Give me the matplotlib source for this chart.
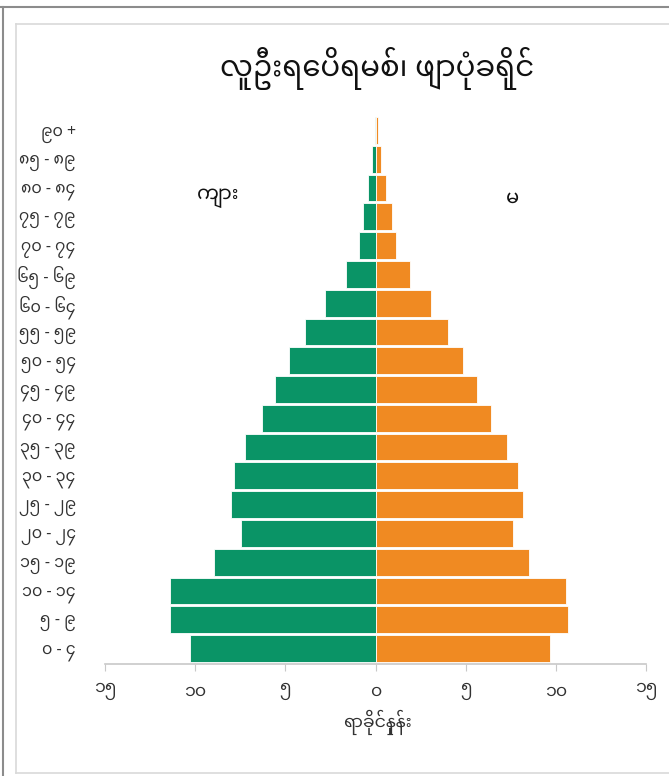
import matplotlib
matplotlib.use("Agg")
import matplotlib.pyplot as plt
from matplotlib.lines import Line2D
from matplotlib import font_manager
import numpy as np

# ---------------- data ----------------
age_groups = ["၀ - ၄", "၅ - ၉", "၁၀ - ၁၄", "၁၅ - ၁၉", "၂၀ - ၂၄", "၂၅ - ၂၉",
              "၃၀ - ၃၄", "၃၅ - ၃၉", "၄၀ - ၄၄", "၄၅ - ၄၉", "၅၀ - ၅၄", "၅၅ - ၅၉",
              "၆၀ - ၆၄", "၆၅ - ၆၉", "၇၀ - ၇၄", "၇၅ - ၇၉", "၈၀ - ၈၄", "၈၅ - ၈၉",
              "၉၀ +"]
male = [10.3, 11.4, 11.4, 8.95, 7.45, 8.0, 7.85, 7.25, 6.3, 5.6, 4.8, 3.9,
        2.8, 1.65, 0.94, 0.72, 0.43, 0.17, 0.05]
female = [9.7, 10.65, 10.55, 8.5, 7.6, 8.2, 7.9, 7.3, 6.4, 5.65, 4.86, 4.0,
          3.1, 1.93, 1.16, 0.94, 0.6, 0.28, 0.12]
xticks = [-15, -10, -5, 0, 5, 10, 15]
xtick_labels = ["၁၅", "၁၀", "၅", "၀", "၅", "၁၀", "၁၅"]
title = "လူဦးရေပိရမစ်၊ ဖျာပုံခရိုင်"
xlabel = "ရာခိုင်နှုန်း"
male_label = "ကျား"
female_label = "မ"

# ---------------- fonts ----------------
available = {f.name for f in font_manager.fontManager.ttflist}
fams = [f for f in ["Noto Sans Myanmar", "Padauk", "Myanmar Text", "Myanmar3",
                    "Noto Serif Myanmar", "Noto Sans", "DejaVu Sans"] if f in available]
plt.rcParams["font.family"] = fams

green = "#0a9466"
orange = "#f08a22"

W, H = 669, 776
fig = plt.figure(figsize=(W / 100, H / 100), dpi=100)

# outer frame lines
fig.add_artist(Line2D([0, 1], [1 - 6.5 / H, 1 - 6.5 / H], color="#8c8c8c", lw=1.5))
fig.add_artist(Line2D([2.5 / W, 2.5 / W], [0, 1 - 6.5 / H], color="#8c8c8c", lw=1.5))
# inner chart border
fig.add_artist(Line2D([16 / W, 1], [1 - 24 / H, 1 - 24 / H], color="#d9d9d9", lw=1.2))
fig.add_artist(Line2D([16 / W, 16 / W], [1 - 773 / H, 1 - 24 / H], color="#d9d9d9", lw=1.2))
fig.add_artist(Line2D([16 / W, 1], [1 - 773 / H, 1 - 773 / H], color="#d9d9d9", lw=1.2))

ax = fig.add_axes([105 / W, 1 - 664 / H, (646 - 105) / W, (664 - 116) / H])
y = np.arange(len(age_groups))
ax.barh(y, [-m for m in male], height=0.93, color=green, edgecolor="white", linewidth=0.6)
ax.barh(y, female, height=0.93, color=orange, edgecolor="white", linewidth=0.6)

ax.set_xlim(-15, 15)
ax.set_ylim(-0.535, 18.5)
ax.set_xticks(xticks)
ax.set_xticklabels(xtick_labels, fontsize=12.5, color="#333333")
ax.set_yticks(y)
ax.set_yticklabels(age_groups, fontsize=11.5, color="#333333")
ax.tick_params(axis="y", length=0, pad=21)
ax.tick_params(axis="x", length=5, color="#c8c8c8", pad=8, direction="out")
for s in ["top", "right", "left"]:
    ax.spines[s].set_visible(False)
ax.spines["bottom"].set_color("#c8c8c8")
ax.spines["bottom"].set_linewidth(1.2)

fig.text(377 / W, 1 - 68 / H, title, ha="center", va="center", fontsize=21,
         color="#111111", fontweight="semibold")
fig.text(377 / W, 1 - 722 / H, xlabel, ha="center", va="center", fontsize=12.5, color="#333333")
fig.text(218 / W, 1 - 198 / H, male_label, ha="center", va="center", fontsize=14,
         color="#111111", fontweight="semibold")
fig.text(512 / W, 1 - 198 / H, female_label, ha="center", va="center", fontsize=14,
         color="#111111", fontweight="semibold")

fig.savefig("out.png", dpi=100, facecolor="white")
